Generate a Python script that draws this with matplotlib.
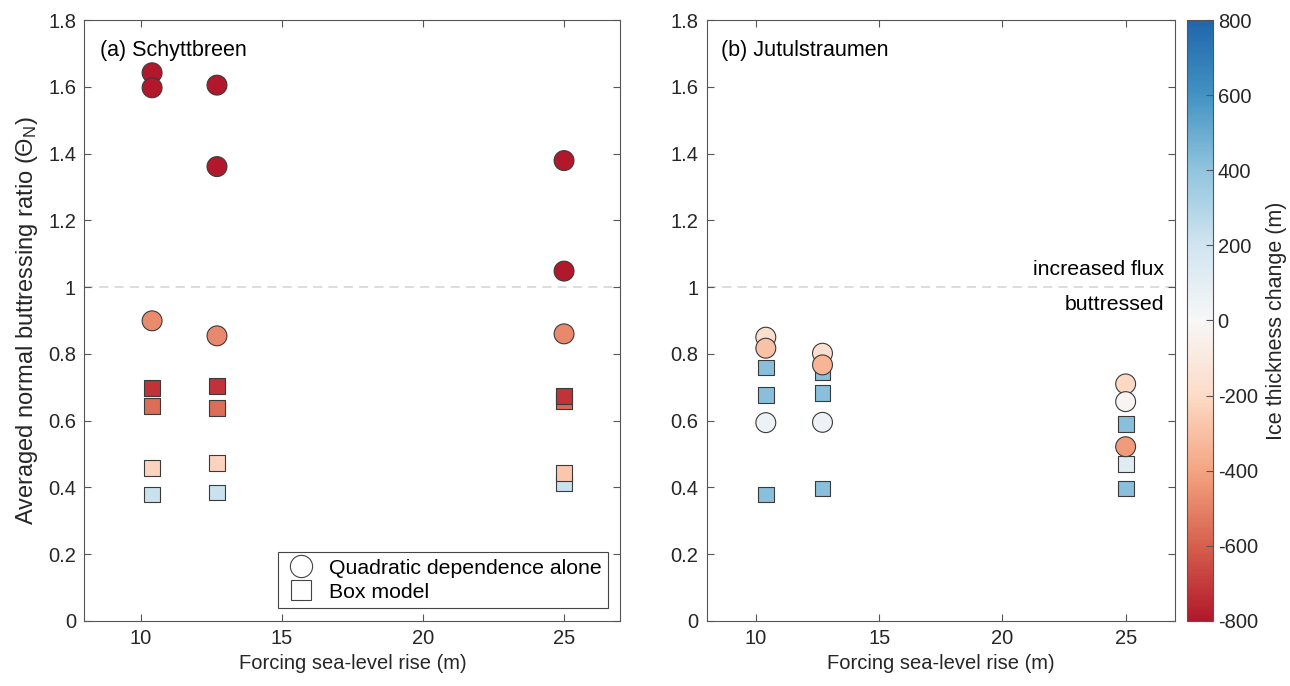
import numpy as np
import matplotlib
matplotlib.use('Agg')
import matplotlib.pyplot as plt
from matplotlib.colors import LinearSegmentedColormap
from matplotlib.lines import Line2D
from matplotlib.ticker import FormatStrFormatter

plt.rcParams['font.family'] = ['Liberation Sans', 'DejaVu Sans']
plt.rcParams['mathtext.fontset'] = 'custom'
plt.rcParams['mathtext.rm'] = 'Liberation Sans'
plt.rcParams['mathtext.it'] = 'Liberation Sans'
plt.rcParams['axes.unicode_minus'] = False

# forcing sea-level rise (m) for each point
slr_quad = [10.4, 10.4, 10.4, 12.7, 12.7, 12.7, 25, 25, 25]
slr_box_a = [10.4, 10.4, 10.4, 10.4, 12.7, 12.7, 12.7, 12.7, 25, 25, 25, 25]
slr_box_b = [10.4, 10.4, 10.4, 12.7, 12.7, 12.7, 25, 25, 25]

# (a) Schyttbreen
quad_a = [1.642, 1.597, 0.899, 1.605, 1.361, 0.854, 1.379, 1.048, 0.860]
quad_a_dh = [-820, -820, -470, -820, -820, -480, -820, -820, -480]
box_a = [0.379, 0.459, 0.645, 0.697, 0.385, 0.472, 0.639, 0.704, 0.414, 0.442, 0.658, 0.674]
box_a_dh = [220, -230, -560, -720, 220, -230, -560, -720, 220, -270, -580, -720]

# (b) Jutulstraumen
quad_b = [0.850, 0.817, 0.594, 0.802, 0.767, 0.595, 0.710, 0.657, 0.522]
quad_b_dh = [-180, -300, 60, -170, -340, 60, -210, -20, -430]
box_b = [0.379, 0.677, 0.759, 0.397, 0.682, 0.745, 0.397, 0.470, 0.590]
box_b_dh = [420, 420, 420, 420, 420, 420, 420, 120, 420]

cmap = LinearSegmentedColormap.from_list('rdbu9', ['#b2182b', '#d6604d', '#f4a582', '#fddbc7', '#f7f7f7',
                                                  '#d1e5f0', '#92c5de', '#4393c3', '#2166ac'])
vmin, vmax = -800, 800
axcol = '#555555'
txtcol = '#262626'

fig = plt.figure(figsize=(12.9, 6.86), dpi=100)
ax1 = fig.add_axes([0.0654, 0.0948, 0.4156, 0.876])
ax2 = fig.add_axes([0.5478, 0.0948, 0.363, 0.876])
cax = fig.add_axes([0.920, 0.0948, 0.0202, 0.876])

def setup(ax):
    ax.set_xlim(8, 27)
    ax.set_ylim(0, 1.8)
    ax.set_xticks([10, 15, 20, 25])
    ax.set_yticks(np.arange(0, 1.81, 0.2))
    ax.yaxis.set_major_formatter(FormatStrFormatter('%g'))
    ax.tick_params(direction='in', top=True, right=True, length=5, width=0.8,
                   colors=axcol, labelcolor=txtcol, labelsize=14.5, pad=6)
    for s in ax.spines.values():
        s.set_color(axcol)
        s.set_linewidth(0.8)
    ax.axhline(1, color='#d3d3d3', lw=1.1, ls=(0, (6, 4)), zorder=1)
    ax.set_xlabel('Forcing sea-level rise (m)', fontsize=14.5, color=txtcol)

setup(ax1)
setup(ax2)

ax1.scatter(slr_box_a, box_a, c=box_a_dh, cmap=cmap, vmin=vmin, vmax=vmax, marker='s',
            s=130, edgecolors='#3a3a3a', linewidths=0.8, zorder=3)
ax1.scatter(slr_quad, quad_a, c=quad_a_dh, cmap=cmap, vmin=vmin, vmax=vmax, marker='o',
            s=205, edgecolors='#3a3a3a', linewidths=0.8, zorder=4)
ax2.scatter(slr_box_b, box_b, c=box_b_dh, cmap=cmap, vmin=vmin, vmax=vmax, marker='s',
            s=130, edgecolors='#3a3a3a', linewidths=0.8, zorder=3)
sc = ax2.scatter(slr_quad, quad_b, c=quad_b_dh, cmap=cmap, vmin=vmin, vmax=vmax, marker='o',
                 s=205, edgecolors='#3a3a3a', linewidths=0.8, zorder=4)

ax1.text(8.55, 1.71, '(a) Schyttbreen', fontsize=15.5, va='center', color='black')
ax2.text(8.58, 1.71, '(b) Jutulstraumen', fontsize=15.5, va='center', color='black')
ax2.text(26.55, 1.025, 'increased flux', fontsize=15.3, ha='right', va='bottom', color='black')
ax2.text(26.55, 0.975, 'buttressed', fontsize=15.3, ha='right', va='top', color='black')

ax1.set_ylabel(r'Averaged normal buttressing ratio ($\Theta_\mathrm{N}$)', fontsize=17, color=txtcol,
               labelpad=6)

handles = [Line2D([], [], marker='o', ls='none', markersize=16, markerfacecolor='white',
                  markeredgecolor='#444444', markeredgewidth=0.8, label='Quadratic dependence alone'),
           Line2D([], [], marker='s', ls='none', markersize=14, markerfacecolor='white',
                  markeredgecolor='#444444', markeredgewidth=0.8, label='Box model')]
leg = ax1.legend(handles=handles, loc='lower right', fontsize=15.3, frameon=True, fancybox=False,
                 edgecolor='#444444', framealpha=1, borderaxespad=0.6, handletextpad=0.5,
                 labelspacing=0.25, borderpad=0.3, handlelength=1.6)
leg.get_frame().set_linewidth(0.8)

cb = fig.colorbar(sc, cax=cax)
cb.set_ticks(np.arange(-800, 801, 200))
cb.ax.tick_params(direction='in', length=5, width=0.8, colors=axcol, labelcolor=txtcol, labelsize=14.5)
cb.outline.set_edgecolor(axcol)
cb.outline.set_linewidth(0.8)
cb.set_label('Ice thickness change (m)', fontsize=15.5, color=txtcol, labelpad=6)

fig.savefig('out.png', dpi=100)
